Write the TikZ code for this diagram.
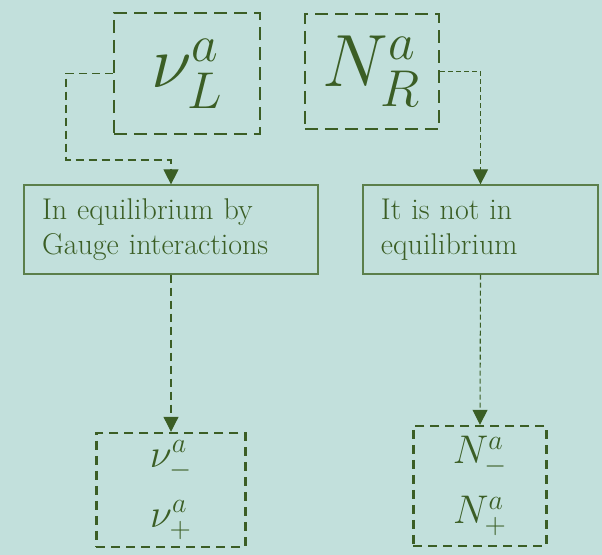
\RequirePackage{fix-cm}
\documentclass[tikz,border=0pt]{standalone}
\usepackage{amsmath,amssymb}
\usepackage{tikz}
\usetikzlibrary{arrows.meta,positioning}
\definecolor{bgteal}{HTML}{C2E0DC}
\definecolor{leaf}{HTML}{3B5E25}
\definecolor{leaflight}{HTML}{5B7F4B}

\begin{document}
\begin{tikzpicture}[x=0.5pt,y=-0.5pt,
      every node/.style={text=leaf},
      field/.style={draw=leaf,line width=1.25pt,dash pattern=on 6.5pt off 3.5pt,
                    inner sep=0pt,font=\fontsize{37}{40}\selectfont},
      state/.style={draw=leaf,line width=1.2pt,dash pattern=on 4.5pt off 3pt,
                    inner sep=0pt,align=center,font=\fontsize{20}{30}\selectfont},
      note/.style={draw=leaflight,line width=0.6pt,inner xsep=9pt,inner ysep=5pt,
                   align=left,font=\fontsize{15}{17.5}\selectfont},
      link/.style={draw=leaf,line width=0.55pt,dash pattern=on 4pt off 2.5pt},
      >={Triangle[length=7.5pt,width=7.5pt]}]
    \useasboundingbox[fill=bgteal] (0,0) rectangle (602,555);
    \node[field,minimum width=73pt,minimum height=60.5pt] (nuL) at (187,73.5) {$\nu^a_L$};
    \node[field,minimum width=67pt,minimum height=57.5pt] (NR)  at (372,71.5) {$N^a_R$};
    \node[note,text width=129pt,minimum height=44.5pt] (eqL) at (171,229.5)
      {In equilibrium by\\Gauge interactions};
    \node[note,text width=99.5pt,minimum height=44.5pt] (neq) at (480.5,229.5)
      {It is not in\\equilibrium};
    \node[state,minimum width=74.5pt,minimum height=57pt] (nupm) at (171,490)
      {$\nu^a_-$\\$\nu^a_+$};
    \node[state,minimum width=66.5pt,minimum height=60pt] (Npm) at (480,486)
      {$N^a_-$\\$N^a_+$};
    \coordinate (bend) at (66,160);
    \draw[link,->] (nuL.west) -| (bend) -| (eqL.north);
    \draw[link,->,dash pattern=on 2.5pt off 1.5pt] (NR.east) -| (neq.north);
    \draw[link,->] (eqL.south) -- (nupm.north);
    \draw[link,->,dash pattern=on 2.5pt off 1.5pt] (neq.south) -- (Npm.north);
  \end{tikzpicture}
\end{document}
